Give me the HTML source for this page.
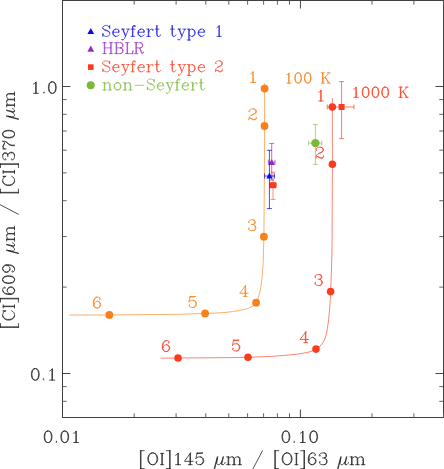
<!DOCTYPE html>
<html><head><meta charset="utf-8"><title>plot</title>
<style>html,body{margin:0;padding:0;background:#fff}body{width:444px;height:469px;overflow:hidden;font-family:"Liberation Serif",serif}</style></head>
<body>
<svg width="444" height="469" viewBox="0 0 444 469" style="display:block">
<title>[CI]609 um / [CI]370 um versus [OI]145 um / [OI]63 um</title>
<desc>Legend: Seyfert type 1, HBLR, Seyfert type 2, non-Seyfert. Model curves 100 K and 1000 K with points 1-6. Axes: 0.01, 0.10 ; 0.1, 1.0</desc>
<rect width="444" height="469" fill="#fff"/>
<rect x="62.4" y="0.5" width="381.1" height="417.0" stroke="#404040" stroke-width="1" fill="none" shape-rendering="crispEdges"/>
<g stroke="#3c3c3c" stroke-width="0.95" fill="none">
<line x1="134.2" y1="417.5" x2="134.2" y2="413.3" stroke="#5a5a5a"/>
<line x1="134.2" y1="0.5" x2="134.2" y2="4.7" stroke="#5a5a5a"/>
<line x1="176.1" y1="417.5" x2="176.1" y2="413.3" stroke="#5a5a5a"/>
<line x1="176.1" y1="0.5" x2="176.1" y2="4.7" stroke="#5a5a5a"/>
<line x1="205.8" y1="417.5" x2="205.8" y2="413.3" stroke="#5a5a5a"/>
<line x1="205.8" y1="0.5" x2="205.8" y2="4.7" stroke="#5a5a5a"/>
<line x1="228.8" y1="417.5" x2="228.8" y2="413.3" stroke="#5a5a5a"/>
<line x1="228.8" y1="0.5" x2="228.8" y2="4.7" stroke="#5a5a5a"/>
<line x1="247.6" y1="417.5" x2="247.6" y2="413.3" stroke="#5a5a5a"/>
<line x1="247.6" y1="0.5" x2="247.6" y2="4.7" stroke="#5a5a5a"/>
<line x1="263.6" y1="417.5" x2="263.6" y2="413.3" stroke="#5a5a5a"/>
<line x1="263.6" y1="0.5" x2="263.6" y2="4.7" stroke="#5a5a5a"/>
<line x1="277.4" y1="417.5" x2="277.4" y2="413.3" stroke="#5a5a5a"/>
<line x1="277.4" y1="0.5" x2="277.4" y2="4.7" stroke="#5a5a5a"/>
<line x1="289.5" y1="417.5" x2="289.5" y2="413.3" stroke="#5a5a5a"/>
<line x1="289.5" y1="0.5" x2="289.5" y2="4.7" stroke="#5a5a5a"/>
<line x1="300.4" y1="417.5" x2="300.4" y2="409.5"/>
<line x1="300.4" y1="0.5" x2="300.4" y2="8.5"/>
<line x1="372.0" y1="417.5" x2="372.0" y2="413.3" stroke="#5a5a5a"/>
<line x1="372.0" y1="0.5" x2="372.0" y2="4.7" stroke="#5a5a5a"/>
<line x1="413.9" y1="417.5" x2="413.9" y2="413.3" stroke="#5a5a5a"/>
<line x1="413.9" y1="0.5" x2="413.9" y2="4.7" stroke="#5a5a5a"/>
<line x1="443.6" y1="417.5" x2="443.6" y2="413.3" stroke="#5a5a5a"/>
<line x1="443.6" y1="0.5" x2="443.6" y2="4.7" stroke="#5a5a5a"/>
<line x1="62.4" y1="401.3" x2="66.6" y2="401.3" stroke="#5a5a5a"/>
<line x1="443.5" y1="401.3" x2="439.3" y2="401.3" stroke="#5a5a5a"/>
<line x1="62.4" y1="386.6" x2="66.6" y2="386.6" stroke="#5a5a5a"/>
<line x1="443.5" y1="386.6" x2="439.3" y2="386.6" stroke="#5a5a5a"/>
<line x1="62.4" y1="373.5" x2="70.4" y2="373.5"/>
<line x1="443.5" y1="373.5" x2="435.5" y2="373.5"/>
<line x1="62.4" y1="287.1" x2="66.6" y2="287.1" stroke="#5a5a5a"/>
<line x1="443.5" y1="287.1" x2="439.3" y2="287.1" stroke="#5a5a5a"/>
<line x1="62.4" y1="236.6" x2="66.6" y2="236.6" stroke="#5a5a5a"/>
<line x1="443.5" y1="236.6" x2="439.3" y2="236.6" stroke="#5a5a5a"/>
<line x1="62.4" y1="200.7" x2="66.6" y2="200.7" stroke="#5a5a5a"/>
<line x1="443.5" y1="200.7" x2="439.3" y2="200.7" stroke="#5a5a5a"/>
<line x1="62.4" y1="172.9" x2="66.6" y2="172.9" stroke="#5a5a5a"/>
<line x1="443.5" y1="172.9" x2="439.3" y2="172.9" stroke="#5a5a5a"/>
<line x1="62.4" y1="150.2" x2="66.6" y2="150.2" stroke="#5a5a5a"/>
<line x1="443.5" y1="150.2" x2="439.3" y2="150.2" stroke="#5a5a5a"/>
<line x1="62.4" y1="131.0" x2="66.6" y2="131.0" stroke="#5a5a5a"/>
<line x1="443.5" y1="131.0" x2="439.3" y2="131.0" stroke="#5a5a5a"/>
<line x1="62.4" y1="114.3" x2="66.6" y2="114.3" stroke="#5a5a5a"/>
<line x1="443.5" y1="114.3" x2="439.3" y2="114.3" stroke="#5a5a5a"/>
<line x1="62.4" y1="99.6" x2="66.6" y2="99.6" stroke="#5a5a5a"/>
<line x1="443.5" y1="99.6" x2="439.3" y2="99.6" stroke="#5a5a5a"/>
<line x1="62.4" y1="86.5" x2="70.4" y2="86.5"/>
<line x1="443.5" y1="86.5" x2="435.5" y2="86.5"/>
</g>
<path transform="translate(44.20,442.50)" d="M3.33,-11.45 L1.67,-10.90 L0.56,-9.27 L0.00,-6.54 L0.00,-4.91 L0.56,-2.18 L1.67,-0.55 L3.33,0.00 L4.44,0.00 L6.11,-0.55 L7.22,-2.18 L7.77,-4.91 L7.77,-6.54 L7.22,-9.27 L6.11,-10.90 L4.44,-11.45 L3.33,-11.45 M3.33,-11.45 L2.22,-10.90 L1.67,-10.36 L1.11,-9.27 L0.56,-6.54 L0.56,-4.91 L1.11,-2.18 L1.67,-1.09 L2.22,-0.55 L3.33,0.00 M4.44,0.00 L5.55,-0.55 L6.11,-1.09 L6.66,-2.18 L7.22,-4.91 L7.22,-6.54 L6.66,-9.27 L6.11,-10.36 L5.55,-10.90 L4.44,-11.45 M12.21,-1.09 L11.66,-0.55 L12.21,0.00 L12.77,-0.55 L12.21,-1.09 M19.98,-11.45 L18.32,-10.90 L17.21,-9.27 L16.65,-6.54 L16.65,-4.91 L17.21,-2.18 L18.32,-0.55 L19.98,0.00 L21.09,0.00 L22.76,-0.55 L23.87,-2.18 L24.42,-4.91 L24.42,-6.54 L23.87,-9.27 L22.76,-10.90 L21.09,-11.45 L19.98,-11.45 M19.98,-11.45 L18.87,-10.90 L18.32,-10.36 L17.76,-9.27 L17.21,-6.54 L17.21,-4.91 L17.76,-2.18 L18.32,-1.09 L18.87,-0.55 L19.98,0.00 M21.09,0.00 L22.20,-0.55 L22.76,-1.09 L23.31,-2.18 L23.87,-4.91 L23.87,-6.54 L23.31,-9.27 L22.76,-10.36 L22.20,-10.90 L21.09,-11.45 M29.42,-9.27 L30.53,-9.81 L32.19,-11.45 L32.19,0.00 M31.64,-10.90 L31.64,0.00 M29.42,0.00 L34.41,0.00" fill="none" stroke="#1c1c1c" stroke-width="0.76" stroke-opacity="1.0" stroke-linecap="round" stroke-linejoin="round"/>
<path transform="translate(282.00,442.50)" d="M3.33,-11.45 L1.67,-10.90 L0.56,-9.27 L0.00,-6.54 L0.00,-4.91 L0.56,-2.18 L1.67,-0.55 L3.33,0.00 L4.44,0.00 L6.11,-0.55 L7.22,-2.18 L7.77,-4.91 L7.77,-6.54 L7.22,-9.27 L6.11,-10.90 L4.44,-11.45 L3.33,-11.45 M3.33,-11.45 L2.22,-10.90 L1.67,-10.36 L1.11,-9.27 L0.56,-6.54 L0.56,-4.91 L1.11,-2.18 L1.67,-1.09 L2.22,-0.55 L3.33,0.00 M4.44,0.00 L5.55,-0.55 L6.11,-1.09 L6.66,-2.18 L7.22,-4.91 L7.22,-6.54 L6.66,-9.27 L6.11,-10.36 L5.55,-10.90 L4.44,-11.45 M12.21,-1.09 L11.66,-0.55 L12.21,0.00 L12.77,-0.55 L12.21,-1.09 M18.32,-9.27 L19.43,-9.81 L21.09,-11.45 L21.09,0.00 M20.54,-10.90 L20.54,0.00 M18.32,0.00 L23.31,0.00 M31.08,-11.45 L29.42,-10.90 L28.31,-9.27 L27.75,-6.54 L27.75,-4.91 L28.31,-2.18 L29.42,-0.55 L31.08,0.00 L32.19,0.00 L33.86,-0.55 L34.97,-2.18 L35.52,-4.91 L35.52,-6.54 L34.97,-9.27 L33.86,-10.90 L32.19,-11.45 L31.08,-11.45 M31.08,-11.45 L29.97,-10.90 L29.42,-10.36 L28.86,-9.27 L28.31,-6.54 L28.31,-4.91 L28.86,-2.18 L29.42,-1.09 L29.97,-0.55 L31.08,0.00 M32.19,0.00 L33.30,-0.55 L33.86,-1.09 L34.41,-2.18 L34.97,-4.91 L34.97,-6.54 L34.41,-9.27 L33.86,-10.36 L33.30,-10.90 L32.19,-11.45" fill="none" stroke="#1c1c1c" stroke-width="0.76" stroke-opacity="1.0" stroke-linecap="round" stroke-linejoin="round"/>
<path transform="translate(33.44,93.30)" d="M0.00,-9.27 L1.11,-9.81 L2.78,-11.45 L2.78,0.00 M2.22,-10.90 L2.22,0.00 M0.00,0.00 L5.00,0.00 M10.55,-1.09 L9.99,-0.55 L10.55,0.00 L11.10,-0.55 L10.55,-1.09 M18.32,-11.45 L16.65,-10.90 L15.54,-9.27 L14.99,-6.54 L14.99,-4.91 L15.54,-2.18 L16.65,-0.55 L18.32,0.00 L19.43,0.00 L21.09,-0.55 L22.20,-2.18 L22.76,-4.91 L22.76,-6.54 L22.20,-9.27 L21.09,-10.90 L19.43,-11.45 L18.32,-11.45 M18.32,-11.45 L17.21,-10.90 L16.65,-10.36 L16.10,-9.27 L15.54,-6.54 L15.54,-4.91 L16.10,-2.18 L16.65,-1.09 L17.21,-0.55 L18.32,0.00 M19.43,0.00 L20.54,-0.55 L21.09,-1.09 L21.65,-2.18 L22.20,-4.91 L22.20,-6.54 L21.65,-9.27 L21.09,-10.36 L20.54,-10.90 L19.43,-11.45" fill="none" stroke="#1c1c1c" stroke-width="0.76" stroke-opacity="1.0" stroke-linecap="round" stroke-linejoin="round"/>
<path transform="translate(31.39,380.10)" d="M3.33,-11.45 L1.67,-10.90 L0.56,-9.27 L0.00,-6.54 L0.00,-4.91 L0.56,-2.18 L1.67,-0.55 L3.33,0.00 L4.44,0.00 L6.11,-0.55 L7.22,-2.18 L7.77,-4.91 L7.77,-6.54 L7.22,-9.27 L6.11,-10.90 L4.44,-11.45 L3.33,-11.45 M3.33,-11.45 L2.22,-10.90 L1.67,-10.36 L1.11,-9.27 L0.56,-6.54 L0.56,-4.91 L1.11,-2.18 L1.67,-1.09 L2.22,-0.55 L3.33,0.00 M4.44,0.00 L5.55,-0.55 L6.11,-1.09 L6.66,-2.18 L7.22,-4.91 L7.22,-6.54 L6.66,-9.27 L6.11,-10.36 L5.55,-10.90 L4.44,-11.45 M12.21,-1.09 L11.66,-0.55 L12.21,0.00 L12.77,-0.55 L12.21,-1.09 M18.32,-9.27 L19.43,-9.81 L21.09,-11.45 L21.09,0.00 M20.54,-10.90 L20.54,0.00 M18.32,0.00 L23.31,0.00" fill="none" stroke="#1c1c1c" stroke-width="0.76" stroke-opacity="1.0" stroke-linecap="round" stroke-linejoin="round"/>
<path transform="translate(102.80,36.40)" d="M6.42,-9.36 L6.92,-10.92 L6.92,-7.80 L6.42,-9.36 L5.43,-10.40 L3.95,-10.92 L2.47,-10.92 L0.99,-10.40 L0.00,-9.36 L0.00,-8.32 L0.49,-7.28 L0.99,-6.76 L1.98,-6.24 L4.94,-5.20 L5.93,-4.68 L6.92,-3.64 M0.00,-8.32 L0.99,-7.28 L1.98,-6.76 L4.94,-5.72 L5.93,-5.20 L6.42,-4.68 L6.92,-3.64 L6.92,-1.56 L5.93,-0.52 L4.45,0.00 L2.96,0.00 L1.48,-0.52 L0.49,-1.56 L0.00,-3.12 L0.00,0.00 L0.49,-1.56 M10.37,-4.16 L16.30,-4.16 L16.30,-5.20 L15.81,-6.24 L15.31,-6.76 L14.33,-7.28 L12.84,-7.28 L11.36,-6.76 L10.37,-5.72 L9.88,-4.16 L9.88,-3.12 L10.37,-1.56 L11.36,-0.52 L12.84,0.00 L13.83,0.00 L15.31,-0.52 L16.30,-1.56 M15.81,-4.16 L15.81,-5.72 L15.31,-6.76 M12.84,-7.28 L11.86,-6.76 L10.87,-5.72 L10.37,-4.16 L10.37,-3.12 L10.87,-1.56 L11.86,-0.52 L12.84,0.00 M19.76,-7.28 L22.72,0.00 M20.25,-7.28 L22.72,-1.04 M25.69,-7.28 L22.72,0.00 L21.74,2.08 L20.75,3.12 L19.76,3.64 L19.27,3.64 L18.77,3.12 L19.27,2.60 L19.76,3.12 M18.77,-7.28 L21.74,-7.28 M23.71,-7.28 L26.68,-7.28 M32.11,-10.40 L31.62,-9.88 L32.11,-9.36 L32.60,-9.88 L32.60,-10.40 L32.11,-10.92 L31.12,-10.92 L30.13,-10.40 L29.64,-9.36 L29.64,0.00 M31.12,-10.92 L30.63,-10.40 L30.13,-9.36 L30.13,0.00 M28.16,-7.28 L32.11,-7.28 M28.16,0.00 L31.62,0.00 M35.57,-4.16 L41.50,-4.16 L41.50,-5.20 L41.00,-6.24 L40.51,-6.76 L39.52,-7.28 L38.04,-7.28 L36.56,-6.76 L35.57,-5.72 L35.07,-4.16 L35.07,-3.12 L35.57,-1.56 L36.56,-0.52 L38.04,0.00 L39.03,0.00 L40.51,-0.52 L41.50,-1.56 M41.00,-4.16 L41.00,-5.72 L40.51,-6.76 M38.04,-7.28 L37.05,-6.76 L36.06,-5.72 L35.57,-4.16 L35.57,-3.12 L36.06,-1.56 L37.05,-0.52 L38.04,0.00 M45.45,-7.28 L45.45,0.00 M45.94,-7.28 L45.94,0.00 M45.94,-4.16 L46.44,-5.72 L47.42,-6.76 L48.41,-7.28 L49.89,-7.28 L50.39,-6.76 L50.39,-6.24 L49.89,-5.72 L49.40,-6.24 L49.89,-6.76 M43.97,-7.28 L45.94,-7.28 M43.97,0.00 L47.42,0.00 M53.85,-10.92 L53.85,-2.08 L54.34,-0.52 L55.33,0.00 L56.32,0.00 L57.30,-0.52 L57.80,-1.56 M54.34,-10.92 L54.34,-2.08 L54.83,-0.52 L55.33,0.00 M52.36,-7.28 L56.32,-7.28 M69.16,-10.92 L69.16,-2.08 L69.65,-0.52 L70.64,0.00 L71.63,0.00 L72.62,-0.52 L73.11,-1.56 M69.65,-10.92 L69.65,-2.08 L70.15,-0.52 L70.64,0.00 M67.68,-7.28 L71.63,-7.28 M76.08,-7.28 L79.04,0.00 M76.57,-7.28 L79.04,-1.04 M82.00,-7.28 L79.04,0.00 L78.05,2.08 L77.06,3.12 L76.08,3.64 L75.58,3.64 L75.09,3.12 L75.58,2.60 L76.08,3.12 M75.09,-7.28 L78.05,-7.28 M80.03,-7.28 L82.99,-7.28 M85.96,-7.28 L85.96,3.64 M86.45,-7.28 L86.45,3.64 M86.45,-5.72 L87.44,-6.76 L88.43,-7.28 L89.41,-7.28 L90.90,-6.76 L91.88,-5.72 L92.38,-4.16 L92.38,-3.12 L91.88,-1.56 L90.90,-0.52 L89.41,0.00 L88.43,0.00 L87.44,-0.52 L86.45,-1.56 M89.41,-7.28 L90.40,-6.76 L91.39,-5.72 L91.88,-4.16 L91.88,-3.12 L91.39,-1.56 L90.40,-0.52 L89.41,0.00 M84.47,-7.28 L86.45,-7.28 M84.47,3.64 L87.93,3.64 M95.84,-4.16 L101.76,-4.16 L101.76,-5.20 L101.27,-6.24 L100.78,-6.76 L99.79,-7.28 L98.31,-7.28 L96.82,-6.76 L95.84,-5.72 L95.34,-4.16 L95.34,-3.12 L95.84,-1.56 L96.82,-0.52 L98.31,0.00 L99.29,0.00 L100.78,-0.52 L101.76,-1.56 M101.27,-4.16 L101.27,-5.72 L100.78,-6.76 M98.31,-7.28 L97.32,-6.76 L96.33,-5.72 L95.84,-4.16 L95.84,-3.12 L96.33,-1.56 L97.32,-0.52 L98.31,0.00 M114.11,-8.84 L115.10,-9.36 L116.58,-10.92 L116.58,0.00 M116.09,-10.40 L116.09,0.00 M114.11,0.00 L118.56,0.00" fill="none" stroke="#0c0cdc" stroke-width="0.68" stroke-opacity="1.0" stroke-linecap="round" stroke-linejoin="round"/>
<path transform="translate(102.80,53.60)" d="M1.48,-10.92 L1.48,0.00 M1.98,-10.92 L1.98,0.00 M7.90,-10.92 L7.90,0.00 M8.40,-10.92 L8.40,0.00 M0.00,-10.92 L3.46,-10.92 M6.42,-10.92 L9.88,-10.92 M1.98,-5.72 L7.90,-5.72 M0.00,0.00 L3.46,0.00 M6.42,0.00 L9.88,0.00 M13.34,-10.92 L13.34,0.00 M13.83,-10.92 L13.83,0.00 M11.86,-10.92 L17.78,-10.92 L19.27,-10.40 L19.76,-9.88 L20.25,-8.84 L20.25,-7.80 L19.76,-6.76 L19.27,-6.24 L17.78,-5.72 M17.78,-10.92 L18.77,-10.40 L19.27,-9.88 L19.76,-8.84 L19.76,-7.80 L19.27,-6.76 L18.77,-6.24 L17.78,-5.72 M13.83,-5.72 L17.78,-5.72 L19.27,-5.20 L19.76,-4.68 L20.25,-3.64 L20.25,-2.08 L19.76,-1.04 L19.27,-0.52 L17.78,0.00 L11.86,0.00 M17.78,-5.72 L18.77,-5.20 L19.27,-4.68 L19.76,-3.64 L19.76,-2.08 L19.27,-1.04 L18.77,-0.52 L17.78,0.00 M24.21,-10.92 L24.21,0.00 M24.70,-10.92 L24.70,0.00 M22.72,-10.92 L26.18,-10.92 M22.72,0.00 L30.13,0.00 L30.13,-3.12 L29.64,0.00 M33.10,-10.92 L33.10,0.00 M33.59,-10.92 L33.59,0.00 M31.62,-10.92 L37.54,-10.92 L39.03,-10.40 L39.52,-9.88 L40.01,-8.84 L40.01,-7.80 L39.52,-6.76 L39.03,-6.24 L37.54,-5.72 L33.59,-5.72 M37.54,-10.92 L38.53,-10.40 L39.03,-9.88 L39.52,-8.84 L39.52,-7.80 L39.03,-6.76 L38.53,-6.24 L37.54,-5.72 M31.62,0.00 L35.07,0.00 M36.06,-5.72 L37.05,-5.20 L37.54,-4.68 L39.03,-1.04 L39.52,-0.52 L40.01,-0.52 L40.51,-1.04 M37.05,-5.20 L37.54,-4.16 L38.53,-0.52 L39.03,0.00 L40.01,0.00 L40.51,-1.04 L40.51,-1.56" fill="none" stroke="#962cc6" stroke-width="0.68" stroke-opacity="1.0" stroke-linecap="round" stroke-linejoin="round"/>
<path transform="translate(102.80,71.80)" d="M6.42,-9.36 L6.92,-10.92 L6.92,-7.80 L6.42,-9.36 L5.43,-10.40 L3.95,-10.92 L2.47,-10.92 L0.99,-10.40 L0.00,-9.36 L0.00,-8.32 L0.49,-7.28 L0.99,-6.76 L1.98,-6.24 L4.94,-5.20 L5.93,-4.68 L6.92,-3.64 M0.00,-8.32 L0.99,-7.28 L1.98,-6.76 L4.94,-5.72 L5.93,-5.20 L6.42,-4.68 L6.92,-3.64 L6.92,-1.56 L5.93,-0.52 L4.45,0.00 L2.96,0.00 L1.48,-0.52 L0.49,-1.56 L0.00,-3.12 L0.00,0.00 L0.49,-1.56 M10.37,-4.16 L16.30,-4.16 L16.30,-5.20 L15.81,-6.24 L15.31,-6.76 L14.33,-7.28 L12.84,-7.28 L11.36,-6.76 L10.37,-5.72 L9.88,-4.16 L9.88,-3.12 L10.37,-1.56 L11.36,-0.52 L12.84,0.00 L13.83,0.00 L15.31,-0.52 L16.30,-1.56 M15.81,-4.16 L15.81,-5.72 L15.31,-6.76 M12.84,-7.28 L11.86,-6.76 L10.87,-5.72 L10.37,-4.16 L10.37,-3.12 L10.87,-1.56 L11.86,-0.52 L12.84,0.00 M19.76,-7.28 L22.72,0.00 M20.25,-7.28 L22.72,-1.04 M25.69,-7.28 L22.72,0.00 L21.74,2.08 L20.75,3.12 L19.76,3.64 L19.27,3.64 L18.77,3.12 L19.27,2.60 L19.76,3.12 M18.77,-7.28 L21.74,-7.28 M23.71,-7.28 L26.68,-7.28 M32.11,-10.40 L31.62,-9.88 L32.11,-9.36 L32.60,-9.88 L32.60,-10.40 L32.11,-10.92 L31.12,-10.92 L30.13,-10.40 L29.64,-9.36 L29.64,0.00 M31.12,-10.92 L30.63,-10.40 L30.13,-9.36 L30.13,0.00 M28.16,-7.28 L32.11,-7.28 M28.16,0.00 L31.62,0.00 M35.57,-4.16 L41.50,-4.16 L41.50,-5.20 L41.00,-6.24 L40.51,-6.76 L39.52,-7.28 L38.04,-7.28 L36.56,-6.76 L35.57,-5.72 L35.07,-4.16 L35.07,-3.12 L35.57,-1.56 L36.56,-0.52 L38.04,0.00 L39.03,0.00 L40.51,-0.52 L41.50,-1.56 M41.00,-4.16 L41.00,-5.72 L40.51,-6.76 M38.04,-7.28 L37.05,-6.76 L36.06,-5.72 L35.57,-4.16 L35.57,-3.12 L36.06,-1.56 L37.05,-0.52 L38.04,0.00 M45.45,-7.28 L45.45,0.00 M45.94,-7.28 L45.94,0.00 M45.94,-4.16 L46.44,-5.72 L47.42,-6.76 L48.41,-7.28 L49.89,-7.28 L50.39,-6.76 L50.39,-6.24 L49.89,-5.72 L49.40,-6.24 L49.89,-6.76 M43.97,-7.28 L45.94,-7.28 M43.97,0.00 L47.42,0.00 M53.85,-10.92 L53.85,-2.08 L54.34,-0.52 L55.33,0.00 L56.32,0.00 L57.30,-0.52 L57.80,-1.56 M54.34,-10.92 L54.34,-2.08 L54.83,-0.52 L55.33,0.00 M52.36,-7.28 L56.32,-7.28 M69.16,-10.92 L69.16,-2.08 L69.65,-0.52 L70.64,0.00 L71.63,0.00 L72.62,-0.52 L73.11,-1.56 M69.65,-10.92 L69.65,-2.08 L70.15,-0.52 L70.64,0.00 M67.68,-7.28 L71.63,-7.28 M76.08,-7.28 L79.04,0.00 M76.57,-7.28 L79.04,-1.04 M82.00,-7.28 L79.04,0.00 L78.05,2.08 L77.06,3.12 L76.08,3.64 L75.58,3.64 L75.09,3.12 L75.58,2.60 L76.08,3.12 M75.09,-7.28 L78.05,-7.28 M80.03,-7.28 L82.99,-7.28 M85.96,-7.28 L85.96,3.64 M86.45,-7.28 L86.45,3.64 M86.45,-5.72 L87.44,-6.76 L88.43,-7.28 L89.41,-7.28 L90.90,-6.76 L91.88,-5.72 L92.38,-4.16 L92.38,-3.12 L91.88,-1.56 L90.90,-0.52 L89.41,0.00 L88.43,0.00 L87.44,-0.52 L86.45,-1.56 M89.41,-7.28 L90.40,-6.76 L91.39,-5.72 L91.88,-4.16 L91.88,-3.12 L91.39,-1.56 L90.40,-0.52 L89.41,0.00 M84.47,-7.28 L86.45,-7.28 M84.47,3.64 L87.93,3.64 M95.84,-4.16 L101.76,-4.16 L101.76,-5.20 L101.27,-6.24 L100.78,-6.76 L99.79,-7.28 L98.31,-7.28 L96.82,-6.76 L95.84,-5.72 L95.34,-4.16 L95.34,-3.12 L95.84,-1.56 L96.82,-0.52 L98.31,0.00 L99.29,0.00 L100.78,-0.52 L101.76,-1.56 M101.27,-4.16 L101.27,-5.72 L100.78,-6.76 M98.31,-7.28 L97.32,-6.76 L96.33,-5.72 L95.84,-4.16 L95.84,-3.12 L96.33,-1.56 L97.32,-0.52 L98.31,0.00 M113.13,-8.84 L113.62,-8.32 L113.13,-7.80 L112.63,-8.32 L112.63,-8.84 L113.13,-9.88 L113.62,-10.40 L115.10,-10.92 L117.08,-10.92 L118.56,-10.40 L119.05,-9.88 L119.55,-8.84 L119.55,-7.80 L119.05,-6.76 L117.57,-5.72 L115.10,-4.68 L114.11,-4.16 L113.13,-3.12 L112.63,-1.56 L112.63,0.00 M117.08,-10.92 L118.07,-10.40 L118.56,-9.88 L119.05,-8.84 L119.05,-7.80 L118.56,-6.76 L117.08,-5.72 L115.10,-4.68 M112.63,-1.04 L113.13,-1.56 L114.11,-1.56 L116.58,-0.52 L118.07,-0.52 L119.05,-1.04 L119.55,-1.56 M114.11,-1.56 L116.58,0.00 L118.56,0.00 L119.05,-0.52 L119.55,-1.56 L119.55,-2.60" fill="none" stroke="#fc3a1e" stroke-width="0.68" stroke-opacity="1.0" stroke-linecap="round" stroke-linejoin="round"/>
<path transform="translate(102.80,90.00)" d="M1.47,-7.28 L1.47,0.00 M1.96,-7.28 L1.96,0.00 M1.96,-5.72 L2.94,-6.76 L4.41,-7.28 L5.39,-7.28 L6.86,-6.76 L7.35,-5.72 L7.35,0.00 M5.39,-7.28 L6.37,-6.76 L6.86,-5.72 L6.86,0.00 M0.00,-7.28 L1.96,-7.28 M0.00,0.00 L3.43,0.00 M5.39,0.00 L8.82,0.00 M14.21,-7.28 L12.74,-6.76 L11.76,-5.72 L11.27,-4.16 L11.27,-3.12 L11.76,-1.56 L12.74,-0.52 L14.21,0.00 L15.19,0.00 L16.66,-0.52 L17.64,-1.56 L18.13,-3.12 L18.13,-4.16 L17.64,-5.72 L16.66,-6.76 L15.19,-7.28 L14.21,-7.28 M14.21,-7.28 L13.23,-6.76 L12.25,-5.72 L11.76,-4.16 L11.76,-3.12 L12.25,-1.56 L13.23,-0.52 L14.21,0.00 M15.19,0.00 L16.17,-0.52 L17.15,-1.56 L17.64,-3.12 L17.64,-4.16 L17.15,-5.72 L16.17,-6.76 L15.19,-7.28 M22.05,-7.28 L22.05,0.00 M22.54,-7.28 L22.54,0.00 M22.54,-5.72 L23.52,-6.76 L24.99,-7.28 L25.97,-7.28 L27.44,-6.76 L27.93,-5.72 L27.93,0.00 M25.97,-7.28 L26.95,-6.76 L27.44,-5.72 L27.44,0.00 M20.58,-7.28 L22.54,-7.28 M20.58,0.00 L24.01,0.00 M25.97,0.00 L29.40,0.00 M32.34,-4.68 L41.16,-4.68 M50.96,-9.36 L51.46,-10.92 L51.46,-7.80 L50.96,-9.36 L49.98,-10.40 L48.51,-10.92 L47.04,-10.92 L45.57,-10.40 L44.59,-9.36 L44.59,-8.32 L45.08,-7.28 L45.57,-6.76 L46.55,-6.24 L49.49,-5.20 L50.47,-4.68 L51.46,-3.64 M44.59,-8.32 L45.57,-7.28 L46.55,-6.76 L49.49,-5.72 L50.47,-5.20 L50.96,-4.68 L51.46,-3.64 L51.46,-1.56 L50.47,-0.52 L49.00,0.00 L47.53,0.00 L46.06,-0.52 L45.08,-1.56 L44.59,-3.12 L44.59,0.00 L45.08,-1.56 M54.89,-4.16 L60.77,-4.16 L60.77,-5.20 L60.28,-6.24 L59.79,-6.76 L58.81,-7.28 L57.34,-7.28 L55.87,-6.76 L54.89,-5.72 L54.40,-4.16 L54.40,-3.12 L54.89,-1.56 L55.87,-0.52 L57.34,0.00 L58.32,0.00 L59.79,-0.52 L60.77,-1.56 M60.28,-4.16 L60.28,-5.72 L59.79,-6.76 M57.34,-7.28 L56.36,-6.76 L55.38,-5.72 L54.89,-4.16 L54.89,-3.12 L55.38,-1.56 L56.36,-0.52 L57.34,0.00 M64.20,-7.28 L67.14,0.00 M64.69,-7.28 L67.14,-1.04 M70.08,-7.28 L67.14,0.00 L66.16,2.08 L65.18,3.12 L64.20,3.64 L63.71,3.64 L63.22,3.12 L63.71,2.60 L64.20,3.12 M63.22,-7.28 L66.16,-7.28 M68.12,-7.28 L71.06,-7.28 M76.45,-10.40 L75.96,-9.88 L76.45,-9.36 L76.94,-9.88 L76.94,-10.40 L76.45,-10.92 L75.47,-10.92 L74.49,-10.40 L74.00,-9.36 L74.00,0.00 M75.47,-10.92 L74.98,-10.40 L74.49,-9.36 L74.49,0.00 M72.53,-7.28 L76.45,-7.28 M72.53,0.00 L75.96,0.00 M79.88,-4.16 L85.76,-4.16 L85.76,-5.20 L85.27,-6.24 L84.78,-6.76 L83.80,-7.28 L82.33,-7.28 L80.86,-6.76 L79.88,-5.72 L79.39,-4.16 L79.39,-3.12 L79.88,-1.56 L80.86,-0.52 L82.33,0.00 L83.31,0.00 L84.78,-0.52 L85.76,-1.56 M85.27,-4.16 L85.27,-5.72 L84.78,-6.76 M82.33,-7.28 L81.35,-6.76 L80.37,-5.72 L79.88,-4.16 L79.88,-3.12 L80.37,-1.56 L81.35,-0.52 L82.33,0.00 M89.68,-7.28 L89.68,0.00 M90.17,-7.28 L90.17,0.00 M90.17,-4.16 L90.66,-5.72 L91.64,-6.76 L92.62,-7.28 L94.09,-7.28 L94.58,-6.76 L94.58,-6.24 L94.09,-5.72 L93.60,-6.24 L94.09,-6.76 M88.21,-7.28 L90.17,-7.28 M88.21,0.00 L91.64,0.00 M98.01,-10.92 L98.01,-2.08 L98.50,-0.52 L99.48,0.00 L100.46,0.00 L101.44,-0.52 L101.93,-1.56 M98.50,-10.92 L98.50,-2.08 L98.99,-0.52 L99.48,0.00 M96.54,-7.28 L100.46,-7.28" fill="none" stroke="#7ab83a" stroke-width="0.68" stroke-opacity="1.0" stroke-linecap="round" stroke-linejoin="round"/>
<path transform="translate(250.65,82.50)" d="M0.00,-8.84 L1.06,-9.36 L2.65,-10.92 L2.65,0.00 M2.12,-10.40 L2.12,0.00 M0.00,0.00 L4.77,0.00" fill="none" stroke="#f98118" stroke-width="0.8" stroke-opacity="1.0" stroke-linecap="round" stroke-linejoin="round"/>
<path transform="translate(248.95,119.80)" d="M0.53,-8.84 L1.06,-8.32 L0.53,-7.80 L0.00,-8.32 L0.00,-8.84 L0.53,-9.88 L1.06,-10.40 L2.65,-10.92 L4.77,-10.92 L6.36,-10.40 L6.89,-9.88 L7.42,-8.84 L7.42,-7.80 L6.89,-6.76 L5.30,-5.72 L2.65,-4.68 L1.59,-4.16 L0.53,-3.12 L0.00,-1.56 L0.00,0.00 M4.77,-10.92 L5.83,-10.40 L6.36,-9.88 L6.89,-8.84 L6.89,-7.80 L6.36,-6.76 L4.77,-5.72 L2.65,-4.68 M0.00,-1.04 L0.53,-1.56 L1.59,-1.56 L4.24,-0.52 L5.83,-0.52 L6.89,-1.04 L7.42,-1.56 M1.59,-1.56 L4.24,0.00 L6.36,0.00 L6.89,-0.52 L7.42,-1.56 L7.42,-2.60" fill="none" stroke="#f98118" stroke-width="0.8" stroke-opacity="1.0" stroke-linecap="round" stroke-linejoin="round"/>
<path transform="translate(248.35,230.70)" d="M0.53,-8.84 L1.06,-8.32 L0.53,-7.80 L0.00,-8.32 L0.00,-8.84 L0.53,-9.88 L1.06,-10.40 L2.65,-10.92 L4.77,-10.92 L6.36,-10.40 L6.89,-9.36 L6.89,-7.80 L6.36,-6.76 L4.77,-6.24 L3.18,-6.24 M4.77,-10.92 L5.83,-10.40 L6.36,-9.36 L6.36,-7.80 L5.83,-6.76 L4.77,-6.24 M4.77,-6.24 L5.83,-5.72 L6.89,-4.68 L7.42,-3.64 L7.42,-2.08 L6.89,-1.04 L6.36,-0.52 L4.77,0.00 L2.65,0.00 L1.06,-0.52 L0.53,-1.04 L0.00,-2.08 L0.00,-2.60 L0.53,-3.12 L1.06,-2.60 L0.53,-2.08 M6.36,-5.20 L6.89,-3.64 L6.89,-2.08 L6.36,-1.04 L5.83,-0.52 L4.77,0.00" fill="none" stroke="#f98118" stroke-width="0.8" stroke-opacity="1.0" stroke-linecap="round" stroke-linejoin="round"/>
<path transform="translate(239.75,296.40)" d="M5.30,-9.88 L5.30,0.00 M5.83,-10.92 L5.83,0.00 M5.83,-10.92 L0.00,-3.12 L8.48,-3.12 M3.71,0.00 L7.42,0.00" fill="none" stroke="#f98118" stroke-width="0.8" stroke-opacity="1.0" stroke-linecap="round" stroke-linejoin="round"/>
<path transform="translate(188.95,307.50)" d="M1.06,-10.92 L0.00,-5.72 M0.00,-5.72 L1.06,-6.76 L2.65,-7.28 L4.24,-7.28 L5.83,-6.76 L6.89,-5.72 L7.42,-4.16 L7.42,-3.12 L6.89,-1.56 L5.83,-0.52 L4.24,0.00 L2.65,0.00 L1.06,-0.52 L0.53,-1.04 L0.00,-2.08 L0.00,-2.60 L0.53,-3.12 L1.06,-2.60 L0.53,-2.08 M4.24,-7.28 L5.30,-6.76 L6.36,-5.72 L6.89,-4.16 L6.89,-3.12 L6.36,-1.56 L5.30,-0.52 L4.24,0.00 M1.06,-10.92 L6.36,-10.92 M1.06,-10.40 L3.71,-10.40 L6.36,-10.92" fill="none" stroke="#f98118" stroke-width="0.8" stroke-opacity="1.0" stroke-linecap="round" stroke-linejoin="round"/>
<path transform="translate(93.35,308.00)" d="M6.36,-9.36 L5.83,-8.84 L6.36,-8.32 L6.89,-8.84 L6.89,-9.36 L6.36,-10.40 L5.30,-10.92 L3.71,-10.92 L2.12,-10.40 L1.06,-9.36 L0.53,-8.32 L0.00,-6.24 L0.00,-3.12 L0.53,-1.56 L1.59,-0.52 L3.18,0.00 L4.24,0.00 L5.83,-0.52 L6.89,-1.56 L7.42,-3.12 L7.42,-3.64 L6.89,-5.20 L5.83,-6.24 L4.24,-6.76 L3.71,-6.76 L2.12,-6.24 L1.06,-5.20 L0.53,-3.64 M3.71,-10.92 L2.65,-10.40 L1.59,-9.36 L1.06,-8.32 L0.53,-6.24 L0.53,-3.12 L1.06,-1.56 L2.12,-0.52 L3.18,0.00 M4.24,0.00 L5.30,-0.52 L6.36,-1.56 L6.89,-3.12 L6.89,-3.64 L6.36,-5.20 L5.30,-6.24 L4.24,-6.76" fill="none" stroke="#f98118" stroke-width="0.8" stroke-opacity="1.0" stroke-linecap="round" stroke-linejoin="round"/>
<path transform="translate(318.55,101.00)" d="M0.00,-8.84 L1.06,-9.36 L2.65,-10.92 L2.65,0.00 M2.12,-10.40 L2.12,0.00 M0.00,0.00 L4.77,0.00" fill="none" stroke="#fc3a1e" stroke-width="0.8" stroke-opacity="1.0" stroke-linecap="round" stroke-linejoin="round"/>
<path transform="translate(316.05,158.20)" d="M0.53,-8.84 L1.06,-8.32 L0.53,-7.80 L0.00,-8.32 L0.00,-8.84 L0.53,-9.88 L1.06,-10.40 L2.65,-10.92 L4.77,-10.92 L6.36,-10.40 L6.89,-9.88 L7.42,-8.84 L7.42,-7.80 L6.89,-6.76 L5.30,-5.72 L2.65,-4.68 L1.59,-4.16 L0.53,-3.12 L0.00,-1.56 L0.00,0.00 M4.77,-10.92 L5.83,-10.40 L6.36,-9.88 L6.89,-8.84 L6.89,-7.80 L6.36,-6.76 L4.77,-5.72 L2.65,-4.68 M0.00,-1.04 L0.53,-1.56 L1.59,-1.56 L4.24,-0.52 L5.83,-0.52 L6.89,-1.04 L7.42,-1.56 M1.59,-1.56 L4.24,0.00 L6.36,0.00 L6.89,-0.52 L7.42,-1.56 L7.42,-2.60" fill="none" stroke="#fc3a1e" stroke-width="0.8" stroke-opacity="1.0" stroke-linecap="round" stroke-linejoin="round"/>
<path transform="translate(314.85,285.50)" d="M0.53,-8.84 L1.06,-8.32 L0.53,-7.80 L0.00,-8.32 L0.00,-8.84 L0.53,-9.88 L1.06,-10.40 L2.65,-10.92 L4.77,-10.92 L6.36,-10.40 L6.89,-9.36 L6.89,-7.80 L6.36,-6.76 L4.77,-6.24 L3.18,-6.24 M4.77,-10.92 L5.83,-10.40 L6.36,-9.36 L6.36,-7.80 L5.83,-6.76 L4.77,-6.24 M4.77,-6.24 L5.83,-5.72 L6.89,-4.68 L7.42,-3.64 L7.42,-2.08 L6.89,-1.04 L6.36,-0.52 L4.77,0.00 L2.65,0.00 L1.06,-0.52 L0.53,-1.04 L0.00,-2.08 L0.00,-2.60 L0.53,-3.12 L1.06,-2.60 L0.53,-2.08 M6.36,-5.20 L6.89,-3.64 L6.89,-2.08 L6.36,-1.04 L5.83,-0.52 L4.77,0.00" fill="none" stroke="#fc3a1e" stroke-width="0.8" stroke-opacity="1.0" stroke-linecap="round" stroke-linejoin="round"/>
<path transform="translate(300.05,342.60)" d="M5.30,-9.88 L5.30,0.00 M5.83,-10.92 L5.83,0.00 M5.83,-10.92 L0.00,-3.12 L8.48,-3.12 M3.71,0.00 L7.42,0.00" fill="none" stroke="#fc3a1e" stroke-width="0.8" stroke-opacity="1.0" stroke-linecap="round" stroke-linejoin="round"/>
<path transform="translate(232.45,351.00)" d="M1.06,-10.92 L0.00,-5.72 M0.00,-5.72 L1.06,-6.76 L2.65,-7.28 L4.24,-7.28 L5.83,-6.76 L6.89,-5.72 L7.42,-4.16 L7.42,-3.12 L6.89,-1.56 L5.83,-0.52 L4.24,0.00 L2.65,0.00 L1.06,-0.52 L0.53,-1.04 L0.00,-2.08 L0.00,-2.60 L0.53,-3.12 L1.06,-2.60 L0.53,-2.08 M4.24,-7.28 L5.30,-6.76 L6.36,-5.72 L6.89,-4.16 L6.89,-3.12 L6.36,-1.56 L5.30,-0.52 L4.24,0.00 M1.06,-10.92 L6.36,-10.92 M1.06,-10.40 L3.71,-10.40 L6.36,-10.92" fill="none" stroke="#fc3a1e" stroke-width="0.8" stroke-opacity="1.0" stroke-linecap="round" stroke-linejoin="round"/>
<path transform="translate(162.35,351.50)" d="M6.36,-9.36 L5.83,-8.84 L6.36,-8.32 L6.89,-8.84 L6.89,-9.36 L6.36,-10.40 L5.30,-10.92 L3.71,-10.92 L2.12,-10.40 L1.06,-9.36 L0.53,-8.32 L0.00,-6.24 L0.00,-3.12 L0.53,-1.56 L1.59,-0.52 L3.18,0.00 L4.24,0.00 L5.83,-0.52 L6.89,-1.56 L7.42,-3.12 L7.42,-3.64 L6.89,-5.20 L5.83,-6.24 L4.24,-6.76 L3.71,-6.76 L2.12,-6.24 L1.06,-5.20 L0.53,-3.64 M3.71,-10.92 L2.65,-10.40 L1.59,-9.36 L1.06,-8.32 L0.53,-6.24 L0.53,-3.12 L1.06,-1.56 L2.12,-0.52 L3.18,0.00 M4.24,0.00 L5.30,-0.52 L6.36,-1.56 L6.89,-3.12 L6.89,-3.64 L6.36,-5.20 L5.30,-6.24 L4.24,-6.76" fill="none" stroke="#fc3a1e" stroke-width="0.8" stroke-opacity="1.0" stroke-linecap="round" stroke-linejoin="round"/>
<path transform="translate(286.70,83.10)" d="M0.00,-8.28 L0.96,-8.77 L2.39,-10.23 L2.39,0.00 M1.91,-9.74 L1.91,0.00 M0.00,0.00 L4.30,0.00 M10.99,-10.23 L9.56,-9.74 L8.60,-8.28 L8.13,-5.84 L8.13,-4.38 L8.60,-1.95 L9.56,-0.49 L10.99,0.00 L11.95,0.00 L13.38,-0.49 L14.34,-1.95 L14.82,-4.38 L14.82,-5.84 L14.34,-8.28 L13.38,-9.74 L11.95,-10.23 L10.99,-10.23 M10.99,-10.23 L10.04,-9.74 L9.56,-9.25 L9.08,-8.28 L8.60,-5.84 L8.60,-4.38 L9.08,-1.95 L9.56,-0.97 L10.04,-0.49 L10.99,0.00 M11.95,0.00 L12.91,-0.49 L13.38,-0.97 L13.86,-1.95 L14.34,-4.38 L14.34,-5.84 L13.86,-8.28 L13.38,-9.25 L12.91,-9.74 L11.95,-10.23 M20.55,-10.23 L19.12,-9.74 L18.16,-8.28 L17.69,-5.84 L17.69,-4.38 L18.16,-1.95 L19.12,-0.49 L20.55,0.00 L21.51,0.00 L22.94,-0.49 L23.90,-1.95 L24.38,-4.38 L24.38,-5.84 L23.90,-8.28 L22.94,-9.74 L21.51,-10.23 L20.55,-10.23 M20.55,-10.23 L19.60,-9.74 L19.12,-9.25 L18.64,-8.28 L18.16,-5.84 L18.16,-4.38 L18.64,-1.95 L19.12,-0.97 L19.60,-0.49 L20.55,0.00 M21.51,0.00 L22.47,-0.49 L22.94,-0.97 L23.42,-1.95 L23.90,-4.38 L23.90,-5.84 L23.42,-8.28 L22.94,-9.25 L22.47,-9.74 L21.51,-10.23 M35.85,-10.23 L35.85,0.00 M36.33,-10.23 L36.33,0.00 M42.54,-10.23 L36.33,-3.90 M38.72,-5.84 L42.54,0.00 M38.24,-5.84 L42.06,0.00 M34.42,-10.23 L37.76,-10.23 M40.63,-10.23 L43.50,-10.23 M34.42,0.00 L37.76,0.00 M40.63,0.00 L43.50,0.00" fill="none" stroke="#f98118" stroke-width="0.8" stroke-opacity="1.0" stroke-linecap="round" stroke-linejoin="round"/>
<path transform="translate(353.90,97.30)" d="M0.00,-8.24 L0.98,-8.73 L2.44,-10.19 L2.44,0.00 M1.96,-9.70 L1.96,0.00 M0.00,0.00 L4.40,0.00 M11.25,-10.19 L9.78,-9.70 L8.80,-8.24 L8.31,-5.82 L8.31,-4.37 L8.80,-1.94 L9.78,-0.48 L11.25,0.00 L12.22,0.00 L13.69,-0.48 L14.67,-1.94 L15.16,-4.37 L15.16,-5.82 L14.67,-8.24 L13.69,-9.70 L12.22,-10.19 L11.25,-10.19 M11.25,-10.19 L10.27,-9.70 L9.78,-9.21 L9.29,-8.24 L8.80,-5.82 L8.80,-4.37 L9.29,-1.94 L9.78,-0.97 L10.27,-0.48 L11.25,0.00 M12.22,0.00 L13.20,-0.48 L13.69,-0.97 L14.18,-1.94 L14.67,-4.37 L14.67,-5.82 L14.18,-8.24 L13.69,-9.21 L13.20,-9.70 L12.22,-10.19 M21.03,-10.19 L19.56,-9.70 L18.58,-8.24 L18.09,-5.82 L18.09,-4.37 L18.58,-1.94 L19.56,-0.48 L21.03,0.00 L22.00,0.00 L23.47,-0.48 L24.45,-1.94 L24.94,-4.37 L24.94,-5.82 L24.45,-8.24 L23.47,-9.70 L22.00,-10.19 L21.03,-10.19 M21.03,-10.19 L20.05,-9.70 L19.56,-9.21 L19.07,-8.24 L18.58,-5.82 L18.58,-4.37 L19.07,-1.94 L19.56,-0.97 L20.05,-0.48 L21.03,0.00 M22.00,0.00 L22.98,-0.48 L23.47,-0.97 L23.96,-1.94 L24.45,-4.37 L24.45,-5.82 L23.96,-8.24 L23.47,-9.21 L22.98,-9.70 L22.00,-10.19 M30.81,-10.19 L29.34,-9.70 L28.36,-8.24 L27.87,-5.82 L27.87,-4.37 L28.36,-1.94 L29.34,-0.48 L30.81,0.00 L31.78,0.00 L33.25,-0.48 L34.23,-1.94 L34.72,-4.37 L34.72,-5.82 L34.23,-8.24 L33.25,-9.70 L31.78,-10.19 L30.81,-10.19 M30.81,-10.19 L29.83,-9.70 L29.34,-9.21 L28.85,-8.24 L28.36,-5.82 L28.36,-4.37 L28.85,-1.94 L29.34,-0.97 L29.83,-0.48 L30.81,0.00 M31.78,0.00 L32.76,-0.48 L33.25,-0.97 L33.74,-1.94 L34.23,-4.37 L34.23,-5.82 L33.74,-8.24 L33.25,-9.21 L32.76,-9.70 L31.78,-10.19 M46.45,-10.19 L46.45,0.00 M46.94,-10.19 L46.94,0.00 M53.30,-10.19 L46.94,-3.88 M49.39,-5.82 L53.30,0.00 M48.90,-5.82 L52.81,0.00 M44.99,-10.19 L48.41,-10.19 M51.34,-10.19 L54.28,-10.19 M44.99,0.00 L48.41,0.00 M51.34,0.00 L54.28,0.00" fill="none" stroke="#fc3a1e" stroke-width="0.8" stroke-opacity="1.0" stroke-linecap="round" stroke-linejoin="round"/>
<path transform="translate(140.45,464.70)" d="M0.00,-14.00 L0.00,3.92 M0.55,-14.00 L0.55,3.92 M0.00,-14.00 L3.85,-14.00 M0.00,3.92 L3.85,3.92 M11.66,-11.76 L9.81,-11.20 L8.58,-10.08 L7.96,-8.96 L7.35,-6.72 L7.35,-5.04 L7.96,-2.80 L8.58,-1.68 L9.81,-0.56 L11.66,0.00 L12.89,0.00 L14.74,-0.56 L15.97,-1.68 L16.59,-2.80 L17.20,-5.04 L17.20,-6.72 L16.59,-8.96 L15.97,-10.08 L14.74,-11.20 L12.89,-11.76 L11.66,-11.76 M11.66,-11.76 L10.43,-11.20 L9.20,-10.08 L8.58,-8.96 L7.96,-6.72 L7.96,-5.04 L8.58,-2.80 L9.20,-1.68 L10.43,-0.56 L11.66,0.00 M12.89,0.00 L14.12,-0.56 L15.36,-1.68 L15.97,-2.80 L16.59,-5.04 L16.59,-6.72 L15.97,-8.96 L15.36,-10.08 L14.12,-11.20 L12.89,-11.76 M21.39,-11.29 L21.39,0.00 M21.86,-11.29 L21.86,0.00 M19.99,-11.29 L23.26,-11.29 M19.99,0.00 L23.26,0.00 M29.14,-14.00 L29.14,3.92 M29.69,-14.00 L29.69,3.92 M25.84,-14.00 L29.69,-14.00 M25.84,3.92 L29.69,3.92 M35.19,-9.52 L36.29,-10.08 L37.94,-11.76 L37.94,0.00 M37.39,-11.20 L37.39,0.00 M35.19,0.00 L40.14,0.00 M49.49,-10.64 L49.49,0.00 M50.04,-11.76 L50.04,0.00 M50.04,-11.76 L43.99,-3.36 L52.79,-3.36 M47.84,0.00 L51.69,0.00 M56.64,-11.76 L55.54,-6.16 M55.54,-6.16 L56.64,-7.28 L58.29,-7.84 L59.94,-7.84 L61.59,-7.28 L62.69,-6.16 L63.24,-4.48 L63.24,-3.36 L62.69,-1.68 L61.59,-0.56 L59.94,0.00 L58.29,0.00 L56.64,-0.56 L56.09,-1.12 L55.54,-2.24 L55.54,-2.80 L56.09,-3.36 L56.64,-2.80 L56.09,-2.24 M59.94,-7.84 L61.04,-7.28 L62.14,-6.16 L62.69,-4.48 L62.69,-3.36 L62.14,-1.68 L61.04,-0.56 L59.94,0.00 M56.64,-11.76 L62.14,-11.76 M56.64,-11.20 L59.39,-11.20 L62.14,-11.76" fill="none" stroke="#1c1c1c" stroke-width="0.76" stroke-opacity="1.0" stroke-linecap="round" stroke-linejoin="round"/>
<path transform="translate(214.20,464.70)" d="M3.10,-7.84 L0.00,3.92 M3.62,-7.84 L0.52,3.92 M3.10,-6.16 L2.59,-2.80 L2.59,-1.12 L3.62,0.00 L4.65,0.00 L5.69,-0.56 L6.72,-1.68 L7.75,-3.36 M8.79,-7.84 L7.24,-1.68 L7.24,-0.56 L7.75,0.00 L9.31,0.00 L10.34,-1.12 L10.86,-2.24 M9.31,-7.84 L7.75,-1.68 L7.75,-0.56 L8.27,0.00 M13.96,-7.84 L13.96,0.00 M14.48,-7.84 L14.48,0.00 M14.48,-6.16 L15.51,-7.28 L17.06,-7.84 L18.09,-7.84 L19.65,-7.28 L20.16,-6.16 L20.16,0.00 M18.09,-7.84 L19.13,-7.28 L19.65,-6.16 L19.65,0.00 M20.16,-6.16 L21.20,-7.28 L22.75,-7.84 L23.78,-7.84 L25.33,-7.28 L25.85,-6.16 L25.85,0.00 M23.78,-7.84 L24.82,-7.28 L25.33,-6.16 L25.33,0.00 M12.41,-7.84 L14.48,-7.84 M12.41,0.00 L16.03,0.00 M18.09,0.00 L21.71,0.00 M23.78,0.00 L27.40,0.00" fill="none" stroke="#1c1c1c" stroke-width="0.76" stroke-opacity="1.0" stroke-linecap="round" stroke-linejoin="round"/>
<path transform="translate(253.10,464.70)" d="M9.40,-14.00 L0.00,3.92" fill="none" stroke="#1c1c1c" stroke-width="0.76" stroke-opacity="1.0" stroke-linecap="round" stroke-linejoin="round"/>
<path transform="translate(274.80,464.70)" d="M0.00,-14.00 L0.00,3.92 M0.55,-14.00 L0.55,3.92 M0.00,-14.00 L3.85,-14.00 M0.00,3.92 L3.85,3.92 M11.66,-11.76 L9.81,-11.20 L8.58,-10.08 L7.96,-8.96 L7.35,-6.72 L7.35,-5.04 L7.96,-2.80 L8.58,-1.68 L9.81,-0.56 L11.66,0.00 L12.89,0.00 L14.74,-0.56 L15.97,-1.68 L16.59,-2.80 L17.20,-5.04 L17.20,-6.72 L16.59,-8.96 L15.97,-10.08 L14.74,-11.20 L12.89,-11.76 L11.66,-11.76 M11.66,-11.76 L10.43,-11.20 L9.20,-10.08 L8.58,-8.96 L7.96,-6.72 L7.96,-5.04 L8.58,-2.80 L9.20,-1.68 L10.43,-0.56 L11.66,0.00 M12.89,0.00 L14.12,-0.56 L15.36,-1.68 L15.97,-2.80 L16.59,-5.04 L16.59,-6.72 L15.97,-8.96 L15.36,-10.08 L14.12,-11.20 L12.89,-11.76 M21.39,-11.29 L21.39,0.00 M21.86,-11.29 L21.86,0.00 M19.99,-11.29 L23.26,-11.29 M19.99,0.00 L23.26,0.00 M29.14,-14.00 L29.14,3.92 M29.69,-14.00 L29.69,3.92 M25.84,-14.00 L29.69,-14.00 M25.84,3.92 L29.69,3.92 M40.14,-10.08 L39.59,-9.52 L40.14,-8.96 L40.69,-9.52 L40.69,-10.08 L40.14,-11.20 L39.04,-11.76 L37.39,-11.76 L35.74,-11.20 L34.64,-10.08 L34.09,-8.96 L33.54,-6.72 L33.54,-3.36 L34.09,-1.68 L35.19,-0.56 L36.84,0.00 L37.94,0.00 L39.59,-0.56 L40.69,-1.68 L41.24,-3.36 L41.24,-3.92 L40.69,-5.60 L39.59,-6.72 L37.94,-7.28 L37.39,-7.28 L35.74,-6.72 L34.64,-5.60 L34.09,-3.92 M37.39,-11.76 L36.29,-11.20 L35.19,-10.08 L34.64,-8.96 L34.09,-6.72 L34.09,-3.36 L34.64,-1.68 L35.74,-0.56 L36.84,0.00 M37.94,0.00 L39.04,-0.56 L40.14,-1.68 L40.69,-3.36 L40.69,-3.92 L40.14,-5.60 L39.04,-6.72 L37.94,-7.28 M45.09,-9.52 L45.64,-8.96 L45.09,-8.40 L44.54,-8.96 L44.54,-9.52 L45.09,-10.64 L45.64,-11.20 L47.29,-11.76 L49.49,-11.76 L51.14,-11.20 L51.69,-10.08 L51.69,-8.40 L51.14,-7.28 L49.49,-6.72 L47.84,-6.72 M49.49,-11.76 L50.59,-11.20 L51.14,-10.08 L51.14,-8.40 L50.59,-7.28 L49.49,-6.72 M49.49,-6.72 L50.59,-6.16 L51.69,-5.04 L52.24,-3.92 L52.24,-2.24 L51.69,-1.12 L51.14,-0.56 L49.49,0.00 L47.29,0.00 L45.64,-0.56 L45.09,-1.12 L44.54,-2.24 L44.54,-2.80 L45.09,-3.36 L45.64,-2.80 L45.09,-2.24 M51.14,-5.60 L51.69,-3.92 L51.69,-2.24 L51.14,-1.12 L50.59,-0.56 L49.49,0.00" fill="none" stroke="#1c1c1c" stroke-width="0.76" stroke-opacity="1.0" stroke-linecap="round" stroke-linejoin="round"/>
<path transform="translate(337.60,464.70)" d="M3.10,-7.84 L0.00,3.92 M3.62,-7.84 L0.52,3.92 M3.10,-6.16 L2.59,-2.80 L2.59,-1.12 L3.62,0.00 L4.65,0.00 L5.69,-0.56 L6.72,-1.68 L7.75,-3.36 M8.79,-7.84 L7.24,-1.68 L7.24,-0.56 L7.75,0.00 L9.31,0.00 L10.34,-1.12 L10.86,-2.24 M9.31,-7.84 L7.75,-1.68 L7.75,-0.56 L8.27,0.00 M13.96,-7.84 L13.96,0.00 M14.48,-7.84 L14.48,0.00 M14.48,-6.16 L15.51,-7.28 L17.06,-7.84 L18.09,-7.84 L19.65,-7.28 L20.16,-6.16 L20.16,0.00 M18.09,-7.84 L19.13,-7.28 L19.65,-6.16 L19.65,0.00 M20.16,-6.16 L21.20,-7.28 L22.75,-7.84 L23.78,-7.84 L25.33,-7.28 L25.85,-6.16 L25.85,0.00 M23.78,-7.84 L24.82,-7.28 L25.33,-6.16 L25.33,0.00 M12.41,-7.84 L14.48,-7.84 M12.41,0.00 L16.03,0.00 M18.09,0.00 L21.71,0.00 M23.78,0.00 L27.40,0.00" fill="none" stroke="#1c1c1c" stroke-width="0.76" stroke-opacity="1.0" stroke-linecap="round" stroke-linejoin="round"/>
<path transform="translate(14.50,327.40) rotate(-90)" d="M0.00,-14.00 L0.00,3.92 M0.55,-14.00 L0.55,3.92 M0.00,-14.00 L3.85,-14.00 M0.00,3.92 L3.85,3.92 M15.97,-10.08 L16.59,-8.40 L16.59,-11.76 L15.97,-10.08 L14.74,-11.20 L12.89,-11.76 L11.66,-11.76 L9.81,-11.20 L8.58,-10.08 L7.96,-8.96 L7.35,-7.28 L7.35,-4.48 L7.96,-2.80 L8.58,-1.68 L9.81,-0.56 L11.66,0.00 L12.89,0.00 L14.74,-0.56 L15.97,-1.68 L16.59,-2.80 M11.66,-11.76 L10.43,-11.20 L9.20,-10.08 L8.58,-8.96 L7.96,-7.28 L7.96,-4.48 L8.58,-2.80 L9.20,-1.68 L10.43,-0.56 L11.66,0.00 M20.77,-11.29 L20.77,0.00 M21.24,-11.29 L21.24,0.00 M19.37,-11.29 L22.64,-11.29 M19.37,0.00 L22.64,0.00 M28.53,-14.00 L28.53,3.92 M29.08,-14.00 L29.08,3.92 M25.23,-14.00 L29.08,-14.00 M25.23,3.92 L29.08,3.92 M39.53,-10.08 L38.98,-9.52 L39.53,-8.96 L40.08,-9.52 L40.08,-10.08 L39.53,-11.20 L38.43,-11.76 L36.78,-11.76 L35.13,-11.20 L34.03,-10.08 L33.48,-8.96 L32.93,-6.72 L32.93,-3.36 L33.48,-1.68 L34.58,-0.56 L36.23,0.00 L37.33,0.00 L38.98,-0.56 L40.08,-1.68 L40.63,-3.36 L40.63,-3.92 L40.08,-5.60 L38.98,-6.72 L37.33,-7.28 L36.78,-7.28 L35.13,-6.72 L34.03,-5.60 L33.48,-3.92 M36.78,-11.76 L35.68,-11.20 L34.58,-10.08 L34.03,-8.96 L33.48,-6.72 L33.48,-3.36 L34.03,-1.68 L35.13,-0.56 L36.23,0.00 M37.33,0.00 L38.43,-0.56 L39.53,-1.68 L40.08,-3.36 L40.08,-3.92 L39.53,-5.60 L38.43,-6.72 L37.33,-7.28 M47.23,-11.76 L45.58,-11.20 L44.48,-9.52 L43.93,-6.72 L43.93,-5.04 L44.48,-2.24 L45.58,-0.56 L47.23,0.00 L48.33,0.00 L49.98,-0.56 L51.08,-2.24 L51.63,-5.04 L51.63,-6.72 L51.08,-9.52 L49.98,-11.20 L48.33,-11.76 L47.23,-11.76 M47.23,-11.76 L46.13,-11.20 L45.58,-10.64 L45.03,-9.52 L44.48,-6.72 L44.48,-5.04 L45.03,-2.24 L45.58,-1.12 L46.13,-0.56 L47.23,0.00 M48.33,0.00 L49.43,-0.56 L49.98,-1.12 L50.53,-2.24 L51.08,-5.04 L51.08,-6.72 L50.53,-9.52 L49.98,-10.64 L49.43,-11.20 L48.33,-11.76 M62.08,-7.84 L61.53,-6.16 L60.43,-5.04 L58.78,-4.48 L58.23,-4.48 L56.58,-5.04 L55.48,-6.16 L54.93,-7.84 L54.93,-8.40 L55.48,-10.08 L56.58,-11.20 L58.23,-11.76 L59.33,-11.76 L60.98,-11.20 L62.08,-10.08 L62.63,-8.40 L62.63,-5.04 L62.08,-2.80 L61.53,-1.68 L60.43,-0.56 L58.78,0.00 L57.13,0.00 L56.03,-0.56 L55.48,-1.68 L55.48,-2.24 L56.03,-2.80 L56.58,-2.24 L56.03,-1.68 M58.23,-4.48 L57.13,-5.04 L56.03,-6.16 L55.48,-7.84 L55.48,-8.40 L56.03,-10.08 L57.13,-11.20 L58.23,-11.76 M59.33,-11.76 L60.43,-11.20 L61.53,-10.08 L62.08,-8.40 L62.08,-5.04 L61.53,-2.80 L60.98,-1.68 L59.88,-0.56 L58.78,0.00" fill="none" stroke="#1c1c1c" stroke-width="0.76" stroke-opacity="1.0" stroke-linecap="round" stroke-linejoin="round"/>
<path transform="translate(14.50,253.60) rotate(-90)" d="M3.10,-7.84 L0.00,3.92 M3.62,-7.84 L0.52,3.92 M3.10,-6.16 L2.59,-2.80 L2.59,-1.12 L3.62,0.00 L4.65,0.00 L5.69,-0.56 L6.72,-1.68 L7.75,-3.36 M8.79,-7.84 L7.24,-1.68 L7.24,-0.56 L7.75,0.00 L9.31,0.00 L10.34,-1.12 L10.86,-2.24 M9.31,-7.84 L7.75,-1.68 L7.75,-0.56 L8.27,0.00 M13.96,-7.84 L13.96,0.00 M14.48,-7.84 L14.48,0.00 M14.48,-6.16 L15.51,-7.28 L17.06,-7.84 L18.09,-7.84 L19.65,-7.28 L20.16,-6.16 L20.16,0.00 M18.09,-7.84 L19.13,-7.28 L19.65,-6.16 L19.65,0.00 M20.16,-6.16 L21.20,-7.28 L22.75,-7.84 L23.78,-7.84 L25.33,-7.28 L25.85,-6.16 L25.85,0.00 M23.78,-7.84 L24.82,-7.28 L25.33,-6.16 L25.33,0.00 M12.41,-7.84 L14.48,-7.84 M12.41,0.00 L16.03,0.00 M18.09,0.00 L21.71,0.00 M23.78,0.00 L27.40,0.00" fill="none" stroke="#1c1c1c" stroke-width="0.76" stroke-opacity="1.0" stroke-linecap="round" stroke-linejoin="round"/>
<path transform="translate(14.50,214.30) rotate(-90)" d="M9.40,-14.00 L0.00,3.92" fill="none" stroke="#1c1c1c" stroke-width="0.76" stroke-opacity="1.0" stroke-linecap="round" stroke-linejoin="round"/>
<path transform="translate(14.50,192.90) rotate(-90)" d="M0.00,-14.00 L0.00,3.92 M0.55,-14.00 L0.55,3.92 M0.00,-14.00 L3.85,-14.00 M0.00,3.92 L3.85,3.92 M15.97,-10.08 L16.59,-8.40 L16.59,-11.76 L15.97,-10.08 L14.74,-11.20 L12.89,-11.76 L11.66,-11.76 L9.81,-11.20 L8.58,-10.08 L7.96,-8.96 L7.35,-7.28 L7.35,-4.48 L7.96,-2.80 L8.58,-1.68 L9.81,-0.56 L11.66,0.00 L12.89,0.00 L14.74,-0.56 L15.97,-1.68 L16.59,-2.80 M11.66,-11.76 L10.43,-11.20 L9.20,-10.08 L8.58,-8.96 L7.96,-7.28 L7.96,-4.48 L8.58,-2.80 L9.20,-1.68 L10.43,-0.56 L11.66,0.00 M20.77,-11.29 L20.77,0.00 M21.24,-11.29 L21.24,0.00 M19.37,-11.29 L22.64,-11.29 M19.37,0.00 L22.64,0.00 M28.53,-14.00 L28.53,3.92 M29.08,-14.00 L29.08,3.92 M25.23,-14.00 L29.08,-14.00 M25.23,3.92 L29.08,3.92 M33.48,-9.52 L34.03,-8.96 L33.48,-8.40 L32.93,-8.96 L32.93,-9.52 L33.48,-10.64 L34.03,-11.20 L35.68,-11.76 L37.88,-11.76 L39.53,-11.20 L40.08,-10.08 L40.08,-8.40 L39.53,-7.28 L37.88,-6.72 L36.23,-6.72 M37.88,-11.76 L38.98,-11.20 L39.53,-10.08 L39.53,-8.40 L38.98,-7.28 L37.88,-6.72 M37.88,-6.72 L38.98,-6.16 L40.08,-5.04 L40.63,-3.92 L40.63,-2.24 L40.08,-1.12 L39.53,-0.56 L37.88,0.00 L35.68,0.00 L34.03,-0.56 L33.48,-1.12 L32.93,-2.24 L32.93,-2.80 L33.48,-3.36 L34.03,-2.80 L33.48,-2.24 M39.53,-5.60 L40.08,-3.92 L40.08,-2.24 L39.53,-1.12 L38.98,-0.56 L37.88,0.00 M43.93,-11.76 L43.93,-8.40 M43.93,-9.52 L44.48,-10.64 L45.58,-11.76 L46.68,-11.76 L49.43,-10.08 L50.53,-10.08 L51.08,-10.64 L51.63,-11.76 M44.48,-10.64 L45.58,-11.20 L46.68,-11.20 L49.43,-10.08 M51.63,-11.76 L51.63,-10.08 L51.08,-8.40 L48.88,-5.60 L48.33,-4.48 L47.78,-2.80 L47.78,0.00 M51.08,-8.40 L48.33,-5.60 L47.78,-4.48 L47.23,-2.80 L47.23,0.00 M58.23,-11.76 L56.58,-11.20 L55.48,-9.52 L54.93,-6.72 L54.93,-5.04 L55.48,-2.24 L56.58,-0.56 L58.23,0.00 L59.33,0.00 L60.98,-0.56 L62.08,-2.24 L62.63,-5.04 L62.63,-6.72 L62.08,-9.52 L60.98,-11.20 L59.33,-11.76 L58.23,-11.76 M58.23,-11.76 L57.13,-11.20 L56.58,-10.64 L56.03,-9.52 L55.48,-6.72 L55.48,-5.04 L56.03,-2.24 L56.58,-1.12 L57.13,-0.56 L58.23,0.00 M59.33,0.00 L60.43,-0.56 L60.98,-1.12 L61.53,-2.24 L62.08,-5.04 L62.08,-6.72 L61.53,-9.52 L60.98,-10.64 L60.43,-11.20 L59.33,-11.76" fill="none" stroke="#1c1c1c" stroke-width="0.76" stroke-opacity="1.0" stroke-linecap="round" stroke-linejoin="round"/>
<path transform="translate(14.50,119.40) rotate(-90)" d="M3.10,-7.84 L0.00,3.92 M3.62,-7.84 L0.52,3.92 M3.10,-6.16 L2.59,-2.80 L2.59,-1.12 L3.62,0.00 L4.65,0.00 L5.69,-0.56 L6.72,-1.68 L7.75,-3.36 M8.79,-7.84 L7.24,-1.68 L7.24,-0.56 L7.75,0.00 L9.31,0.00 L10.34,-1.12 L10.86,-2.24 M9.31,-7.84 L7.75,-1.68 L7.75,-0.56 L8.27,0.00 M13.96,-7.84 L13.96,0.00 M14.48,-7.84 L14.48,0.00 M14.48,-6.16 L15.51,-7.28 L17.06,-7.84 L18.09,-7.84 L19.65,-7.28 L20.16,-6.16 L20.16,0.00 M18.09,-7.84 L19.13,-7.28 L19.65,-6.16 L19.65,0.00 M20.16,-6.16 L21.20,-7.28 L22.75,-7.84 L23.78,-7.84 L25.33,-7.28 L25.85,-6.16 L25.85,0.00 M23.78,-7.84 L24.82,-7.28 L25.33,-6.16 L25.33,0.00 M12.41,-7.84 L14.48,-7.84 M12.41,0.00 L16.03,0.00 M18.09,0.00 L21.71,0.00 M23.78,0.00 L27.40,0.00" fill="none" stroke="#1c1c1c" stroke-width="0.76" stroke-opacity="1.0" stroke-linecap="round" stroke-linejoin="round"/>
<path d="M264.6,83.3 L264.5,160 L263.9,236.7 L263.3,259.7 C263,268 262.4,275 261.7,280.6 C261,287 260.1,291.5 258.9,295.5 C258.1,298.2 257.3,300.5 256.1,302.7 C254.7,304.8 252.8,306.2 250.1,307.5 C247.2,308.8 243.7,309.7 239.7,310.4 C235,311.3 230,312 224.8,312.5 C218,313 212,313.3 205.1,313.4 L180,314.3 L109.3,314.9 L69.2,315.1" fill="none" stroke="#f98118" stroke-width="0.7" stroke-opacity="0.9"/>
<path d="M332.3,98 L332.4,164.3 L332,250 L331.4,272.2 L330.6,291.6 C330.3,300 329.8,307 329.2,313.7 C328.5,321.5 327.6,327.7 326.5,333.1 C325.6,337.2 324.4,340.3 322.8,342.8 C321.3,345.2 319.1,347.4 316.1,349.1 C313.6,350.5 310.8,351.6 307.6,352.4 C302.5,353.6 297,354.2 291,354.8 C284.5,355.4 278,356 271.6,356.4 L248,357.3 L230,357.6 L178,358 L160.6,358.2" fill="none" stroke="#fc3a1e" stroke-width="0.7" stroke-opacity="0.9"/>
<circle cx="264.6" cy="88.6" r="3.9" fill="#f98118"/>
<circle cx="264.5" cy="126" r="3.9" fill="#f98118"/>
<circle cx="263.9" cy="236.7" r="3.9" fill="#f98118"/>
<circle cx="256.1" cy="302.7" r="3.9" fill="#f98118"/>
<circle cx="205.1" cy="313.4" r="3.9" fill="#f98118"/>
<circle cx="109.3" cy="314.9" r="3.9" fill="#f98118"/>
<circle cx="332.3" cy="107" r="3.8" fill="#fc3a1e"/>
<circle cx="332.4" cy="164.3" r="3.8" fill="#fc3a1e"/>
<circle cx="330.6" cy="291.6" r="3.8" fill="#fc3a1e"/>
<circle cx="316.0" cy="349.1" r="3.8" fill="#fc3a1e"/>
<circle cx="248" cy="357.3" r="3.8" fill="#fc3a1e"/>
<circle cx="178" cy="358.0" r="3.8" fill="#fc3a1e"/>
<g stroke="#7ab83a" stroke-width="0.8" stroke-opacity="0.75" fill="none">
<path d="M308.6,143.1 L321.8,143.1 M308.6,140.6 L308.6,145.6 M321.8,140.6 L321.8,145.6"/>
<path d="M315.4,124.6 L315.4,164.4 M312.9,124.6 L317.9,124.6 M312.9,164.4 L317.9,164.4"/>
</g>
<circle cx="315.4" cy="143.1" r="4.2" fill="#7ab83a"/>
<g stroke="#fc3a1e" stroke-width="0.8" stroke-opacity="0.85" fill="none">
<path d="M327.3,107 L354,107 M327.3,104.5 L327.3,109.5 M354,104.5 L354,109.5"/>
<path d="M341.6,81.6 L341.6,138.6 M339.1,81.6 L344.1,81.6 M339.1,138.6 L344.1,138.6"/>
</g>
<rect x="338.6" y="104.0" width="6.0" height="6.0" fill="#fc3a1e"/>
<g stroke="#fc3a1e" stroke-width="0.8" stroke-opacity="0.7" fill="none">
<path d="M269.5,185 L276.5,185 M269.5,182.5 L269.5,187.5 M276.5,182.5 L276.5,187.5"/>
<path d="M273,172.2 L273,199.4 M270.5,172.2 L275.5,172.2 M270.5,199.4 L275.5,199.4"/>
</g>
<rect x="270.0" y="182.2" width="6.0" height="6.0" fill="#fc3a1e"/>
<g stroke="#962cc6" stroke-width="0.8" stroke-opacity="0.85" fill="none">
<path d="M268.4,162.2 L275,162.2 M268.4,159.7 L268.4,164.7 M275,159.7 L275,164.7"/>
<path d="M271.7,143.4 L271.7,180 M269.2,143.4 L274.2,143.4 M269.2,180 L274.2,180"/>
</g>
<path d="M271.7,158.99999999999997 L275.09999999999997,165.1 L268.3,165.1 Z" fill="#962cc6"/>
<g stroke="#0c0cdc" stroke-width="0.8" stroke-opacity="0.92" fill="none">
<path d="M264.6,176 L274.5,176 M264.6,173.5 L264.6,178.5 M274.5,173.5 L274.5,178.5"/>
<path d="M269.4,150.3 L269.4,208.6 M266.9,150.3 L271.9,150.3 M266.9,208.6 L271.9,208.6"/>
</g>
<path d="M269.4,172.49999999999997 L272.5,178.4 L266.29999999999995,178.4 Z" fill="#0c0cdc"/>
<path d="M90.8,28.0 L94.2,34.1 L87.39999999999999,34.1 Z" fill="#0c0cdc"/>
<path d="M90.8,45.6 L94.2,51.699999999999996 L87.39999999999999,51.699999999999996 Z" fill="#962cc6"/>
<rect x="88.0" y="64.3" width="5.6" height="5.6" fill="#fc3a1e"/>
<circle cx="90.7" cy="85.2" r="4.0" fill="#7ab83a"/>
</svg>
</body></html>
